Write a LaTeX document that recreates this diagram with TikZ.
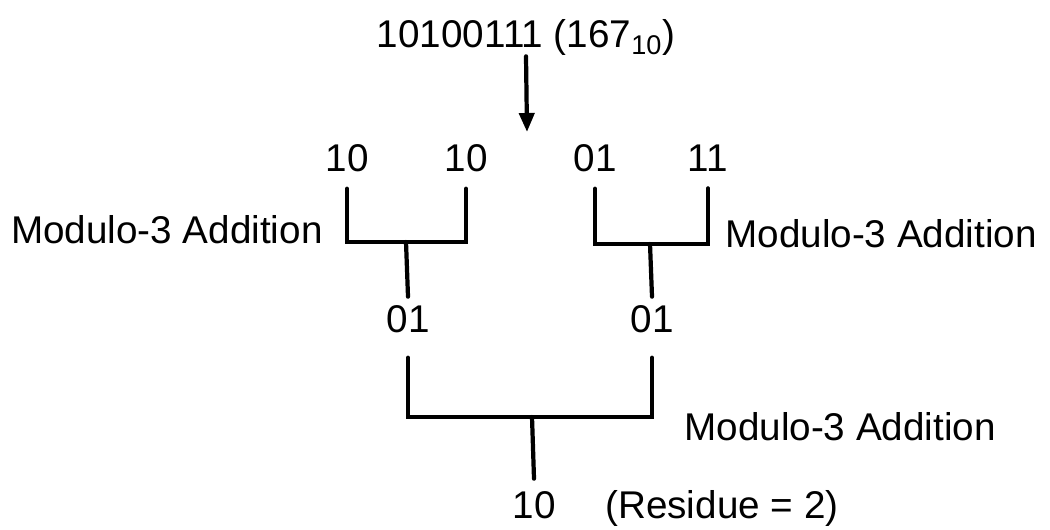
\documentclass[tikz,border=0pt]{standalone}
\usepackage{fontspec}
\setmainfont{Liberation Sans}
\usetikzlibrary{arrows.meta}

\tikzset{
  bit/.style={inner sep=0pt, anchor=base},
  note/.style={inner sep=0pt},
  tree/.style={line width=2.4pt, line cap=round, line join=miter},
}

\begin{document}
\begin{tikzpicture}[x=0.02cm, y=-0.02cm, font=\fontsize{22}{26}\selectfont, >={Triangle[length=0.38cm,width=0.3cm]}]
\useasboundingbox (0,0) rectangle (1050,530);
% the byte and its split into 2-bit groups
\node[bit] (word) at (526,48) {10100111 (167\textsubscript{10})};
\coordinate (split) at (527,132);
\draw[tree,->] (word.south) -- (split);
\node[bit] (b1) at (347,172) {10};
\node[bit] (b2) at (466,172) {10};
\node[bit] (b3) at (595,172) {01};
\node[bit] (b4) at (708,172) {11};
% first level of additions
\coordinate (m1) at (406,242);
\coordinate (m2) at (650,244);
\node[bit] (s1) at (408,332) {01};
\node[bit] (s2) at (652,332) {01};
\draw[tree] ([yshift=-0.32cm]b1.south) |- (m1) -| ([yshift=-0.32cm]b2.south);
\draw[tree] ([yshift=-0.32cm]b3.south) |- (m2) -| ([yshift=-0.32cm]b4.south);
\draw[tree] (m1) -- ([yshift=0.16cm]s1.north);
\draw[tree] (m2) -- ([yshift=0.16cm]s2.north);
\node[note, anchor=base east] (add1) at (323,243) {Modulo-3 Addition};
\node[note, anchor=base west] (add2) at (725,247) {Modulo-3 Addition};
% second level and the residue
\coordinate (m3) at (532,417);
\node[bit] (res) at (534,518) {10};
\draw[tree] ([yshift=-0.5cm]s1.south) |- (m3) -| ([yshift=-0.5cm]s2.south);
\draw[tree] (m3) -- ([yshift=0.24cm]res.north);
\node[note, anchor=base west] (add3) at (684,440) {Modulo-3 Addition};
\node[note, anchor=base west] (val) at (605,518) {(Residue = 2)};
\end{tikzpicture}
\end{document}
